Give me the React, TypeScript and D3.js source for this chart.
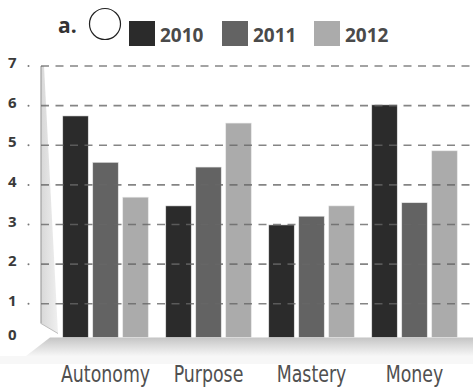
import React from "react";
import * as d3 from "d3";

const categories = ["Autonomy", "Purpose", "Mastery", "Money"];
const years = ["2010", "2011", "2012"];
const values2010 = [5.74, 3.47, 2.99, 6.02];
const values2011 = [4.57, 4.45, 3.21, 3.55];
const values2012 = [3.69, 5.56, 3.47, 4.86];
const yTicks = [0, 1, 2, 3, 4, 5, 6, 7];
const colors = ["#2b2b2b", "#636363", "#ababab"];

const W = 473;
const H = 392;

export default function App() {
  const series = [values2010, values2011, values2012];
  const y = d3.scaleLinear().domain([0, 7]).range([343.4, 66]);
  const floorY = 337.5;
  const x0 = d3
    .scaleBand<string>()
    .domain(categories)
    .range([54, 466])
    .paddingInner(0.17)
    .paddingOuter(0.085);
  const x1 = d3
    .scaleBand<string>()
    .domain(years)
    .range([0, x0.bandwidth()])
    .paddingInner(0.15);

  const gridLeft = 41;
  const labelFont = "'DejaVu Sans Condensed', 'Open Sans', sans-serif";
  const boldFont = "'Open Sans', 'DejaVu Sans', sans-serif";

  return (
    <svg
      width={W}
      height={H}
      style={{ position: "absolute", left: 0, top: 0, background: "#fff" }}
    >
      <defs>
        <linearGradient id="floorGrad" x1="0" y1="0" x2="0" y2="1">
          <stop offset="0" stopColor="#c4c4c4" />
          <stop offset="0.45" stopColor="#dcdcdc" />
          <stop offset="1" stopColor="#f6f6f6" />
        </linearGradient>
        <linearGradient id="wallGrad" x1="0" y1="0" x2="1" y2="0">
          <stop offset="0" stopColor="#d8d8d8" />
          <stop offset="1" stopColor="#f0f0f0" />
        </linearGradient>
      </defs>
      <rect width={W} height={H} fill="#fff" />

      {/* floor */}
      <polygon
        points={`50,${floorY} ${W},${floorY} ${W},356 26,356`}
        fill="url(#floorGrad)"
      />
      <rect x={0} y={356} width={W} height={8} fill="#f7f7f7" />
      {/* wall */}
      <polygon
        points={`${gridLeft},${y(7)} ${gridLeft + 3},${y(7)} ${58},${floorY - 4} ${gridLeft},${floorY - 14}`}
        fill="url(#wallGrad)"
      />
      <line
        x1={gridLeft}
        x2={gridLeft}
        y1={y(7)}
        y2={floorY - 14}
        stroke="#a0a0a0"
        strokeWidth={1.2}
      />
      <line
        x1={gridLeft}
        x2={58}
        y1={floorY - 14}
        y2={floorY - 4}
        stroke="#bdbdbd"
        strokeWidth={1}
      />

      {/* bars */}
      {categories.map((c, ci) => (
        <g key={c} transform={`translate(${x0(c)},0)`}>
          {years.map((yr, si) => {
            const v = series[si][ci];
            return (
              <rect
                key={yr}
                x={x1(yr)}
                y={y(v)}
                width={x1.bandwidth()}
                height={floorY - y(v)}
                fill={colors[si]}
                stroke="#e8e8e8"
                strokeWidth={0.6}
              />
            );
          })}
        </g>
      ))}

      {/* gridlines over bars */}
      {yTicks
        .filter((t) => t > 0)
        .map((t) => (
          <g key={t}>
            <line
              x1={gridLeft}
              x2={W}
              y1={y(t)}
              y2={y(t)}
              stroke="#666"
              strokeOpacity={0.8}
              strokeWidth={1.7}
              strokeDasharray="8,6.5"
            />
            <circle cx={28.5} cy={y(t)} r={1} fill="#777" />
          </g>
        ))}

      {/* y tick labels */}
      {yTicks.map((t) => (
        <text
          key={t}
          x={8}
          y={t === 0 ? 340 : y(t) + 2}
          fontFamily={boldFont}
          fontWeight="bold"
          fontSize={15}
          fill="#3a3a3a"
        >
          {t}
        </text>
      ))}

      {/* category labels */}
      {categories.map((c) => {
        const cx = (x0(c) as number) + x0.bandwidth() / 2;
        return (
          <text
            key={c}
            transform={`translate(${cx},382) scale(0.84,1)`}
            textAnchor="middle"
            fontFamily={labelFont}
            fontSize={23}
            fill="#505050"
          >
            {c}
          </text>
        );
      })}

      {/* legend */}
      <text
        x={58}
        y={33}
        fontFamily={boldFont}
        fontWeight="bold"
        fontSize={21}
        fill="#333"
      >
        a.
      </text>
      <circle cx={105} cy={24} r={15.5} fill="#fff" stroke="#222" strokeWidth={1.2} />
      {years.map((yr, i) => {
        const lx = [129, 222, 314][i];
        return (
          <g key={yr}>
            <rect x={lx} y={21} width={26} height={25} fill={colors[i]} />
            <text
              x={lx + 31}
              y={42}
              fontFamily={boldFont}
              fontWeight="bold"
              fontSize={19}
              fill="#4a4a4a"
            >
              {yr}
            </text>
          </g>
        );
      })}
    </svg>
  );
}
